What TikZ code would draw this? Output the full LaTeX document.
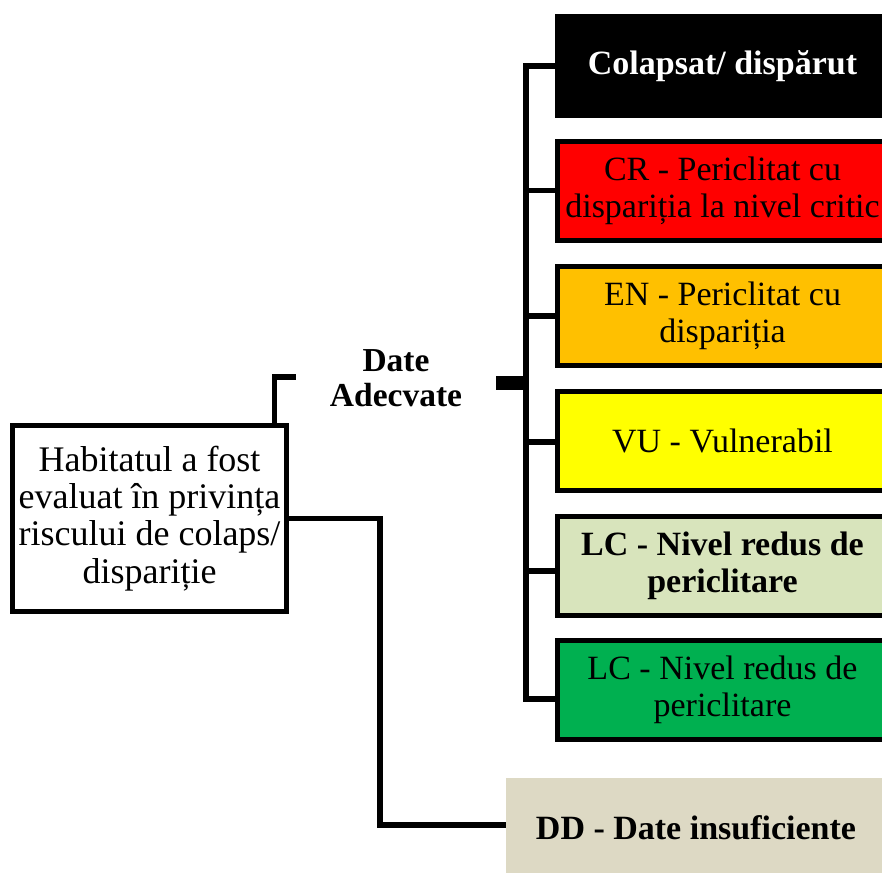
\documentclass[tikz,border=0pt]{standalone}
\usepackage{fontspec}
\setmainfont{Liberation Serif}
\definecolor{crred}{HTML}{FF0000}
\definecolor{enorange}{HTML}{FFC000}
\definecolor{vuyellow}{HTML}{FFFF00}
\definecolor{lclight}{HTML}{D8E4BC}
\definecolor{lcgreen}{HTML}{00B050}
\definecolor{ddbeige}{HTML}{DDD9C4}
\tikzset{
  txt/.style={font=\fontsize{34}{37}\selectfont, align=center, inner sep=0pt},
  catbox/.style={txt, draw=black, line width=5pt, minimum width=330pt, minimum height=99pt},
  link/.style={line width=5.5pt}
}
\begin{document}
\begin{tikzpicture}[x=1pt, y=-1pt]
    \clip (0, 0) rectangle (882, 872);
    \node [txt, draw=black, line width=5pt, minimum width=274pt, minimum height=186pt, font=\fontsize{36}{37.3}\selectfont] (hab) at (149.5, 518.5)
      {Habitatul a fost\\evaluat în privința\\riscului de colaps/\\dispariție};
    \node [txt, font=\fontsize{33.5}{35}\selectfont\bfseries] (adecv) at (396, 378) {Date\\Adecvate};
    \node [txt, fill=black, text=white, minimum width=335pt, minimum height=104pt, font=\fontsize{34}{37}\selectfont\bfseries] (col) at (722.5, 66) {Colapsat/ dispărut};
    \node [catbox, fill=crred] (cr) at (722.5, 190.5) {CR - Periclitat cu\\dispariția la nivel critic};
    \node [catbox, fill=enorange] (en) at (722.5, 316) {EN - Periclitat cu\\dispariția};
    \node [catbox, fill=vuyellow] (vu) at (722.5, 440.5) {VU - Vulnerabil};
    \node [catbox, fill=lclight, font=\fontsize{34}{37}\selectfont\bfseries] (lcl) at (722.5, 565.5) {LC - Nivel redus de\\periclitare};
    \node [catbox, fill=lcgreen] (lcg) at (722.5, 690) {LC - Nivel redus de\\periclitare};
    \node [txt, fill=ddbeige, minimum width=380pt, minimum height=100pt, font=\fontsize{34}{37}\selectfont\bfseries] (dd) at (696, 828) {DD - Date insuficiente};
    \coordinate (spine) at (526, 0);
    \coordinate (drop) at (380, 0);
    \coordinate (upend) at (296, 377);
    \coordinate (tab) at (496, 383);
    \draw [link] (col.west) -| (spine |- lcg.west) |- ([yshift=-9pt]lcg.west);
    \draw [link] (cr.west) -- (cr.west -| spine);
    \draw [link] (en.west) -- (en.west -| spine);
    \draw [link] ([yshift=-1.5pt]vu.west) -- ([yshift=-1.5pt]vu.west -| spine);
    \draw [link] ([yshift=-5.5pt]lcl.west) -- ([yshift=-5.5pt]lcl.west -| spine);
    \draw [line width=14pt] (tab) -- (tab -| spine);
    \draw [link] ([xshift=-14.5pt]hab.north east) |- (upend);
    \draw [link] (hab.east) -- (hab.east -| drop) |- ([yshift=3pt]dd.west);
  \end{tikzpicture}
\end{document}
